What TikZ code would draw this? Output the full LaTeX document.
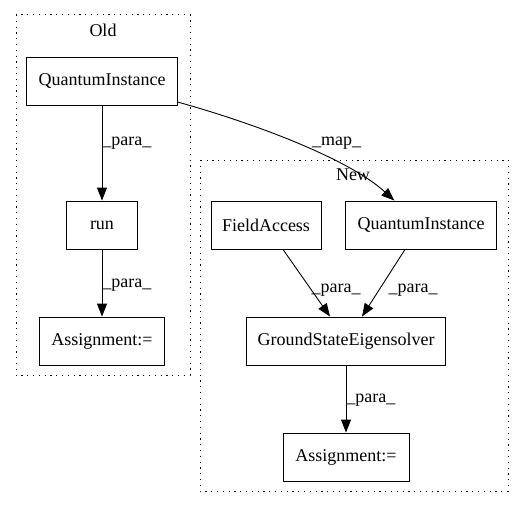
\documentclass[tikz,border=0pt]{standalone}
\usepackage{fontspec}
\setmainfont{Liberation Serif}
\usetikzlibrary{arrows.meta}

\tikzset{
  op/.style={draw, line width=0.9pt, minimum height=48pt, inner sep=0pt, font=\fontsize{18}{20}\selectfont},
  cluster/.style={line width=1pt, dash pattern=on 1.2pt off 4.6pt},
  lbl/.style={font=\fontsize{18}{20}\selectfont, inner sep=0pt},
  flow/.style={line width=0.9pt, -{Triangle[length=13pt,width=10pt]}}
}

\begin{document}
\begin{tikzpicture}[x=1pt,y=-1pt]

  \useasboundingbox (0,0) rectangle (524,508);

  \draw[cluster] (16,15) rectangle (190,375);
  \node[lbl] (old) at (103,30) {Old};

  \draw[cluster] (200,160) rectangle (508,491);
  \node[lbl] (new) at (353,175) {New};

  \node[op, minimum width=151pt] (qiold) at (102,81) {QuantumInstance};
  \node[op, minimum width=71pt] (run) at (102,225) {run};
  \node[op, minimum width=125pt] (asold) at (102,341) {Assignment:=};

  \node[op, minimum width=110pt] (field) at (266,225) {FieldAccess};
  \node[op, minimum width=151pt] (qinew) at (421,225) {QuantumInstance};
  \node[op, minimum width=199pt] (gse) at (346,341) {GroundStateEigensolver};
  \node[op, minimum width=126pt] (asnew) at (346,457) {Assignment:=};

  \draw[flow] (qiold) -- node[lbl, pos=0.4, right] {\_para\_} (run);
  \draw[flow] (run) -- node[lbl, pos=0.53, right] {\_para\_} (asold);

  \draw[flow] (qiold) .. controls (260,125) and (350,160) .. node[lbl, pos=0.55, anchor=south west] {\_map\_} (qinew);

  \draw[flow] ([xshift=17pt]field.south) -- node[lbl, pos=0.6, right] {\_para\_} ([xshift=-16pt]gse.north);
  \draw[flow] ([xshift=-16pt]qinew.south) -- node[lbl, pos=0.6, right=9pt] {\_para\_} ([xshift=16pt]gse.north);
  \draw[flow] (gse) -- node[lbl, pos=0.51, right] {\_para\_} (asnew);

\end{tikzpicture}
\end{document}
